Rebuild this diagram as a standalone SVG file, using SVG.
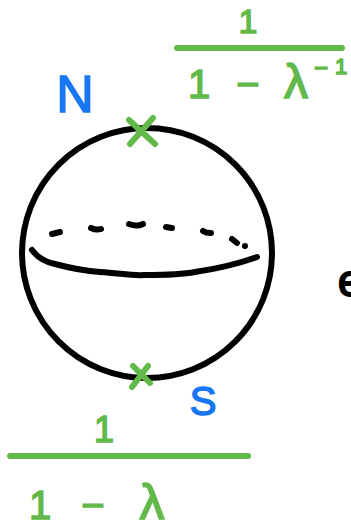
<svg xmlns="http://www.w3.org/2000/svg" width="351" height="529" viewBox="0 0 351 529">
<style>
.g{stroke:#62b94a;stroke-width:6;stroke-linecap:round;fill:none}
.k{stroke:#000;stroke-width:6;stroke-linecap:round;stroke-linejoin:round;fill:none}
.d{stroke:#000;stroke-width:6;stroke-linecap:round;fill:none}
.gt{fill:#62b94a;stroke:#62b94a;stroke-width:1.5;font-family:"Liberation Sans",Arial,sans-serif;text-anchor:middle}
.bt{fill:#1877f2;stroke:#1877f2;stroke-width:1.5;font-family:"Liberation Sans",Arial,sans-serif;text-anchor:middle}
</style>
<rect width="351" height="529" fill="#fff"/>
<g id="sphere">
<circle class="k" cx="147" cy="253" r="125"/>
<path class="k" d="M32,250 C38,258 45,262 55,264 C70,268 85,271 100,272 C120,273 130,276 145,275 C165,275 180,275 195,272 C215,269 235,265 257,257"/>
<path class="d" d="M52,234 L60,232 M91,228 C95,230 98,230 101,229 M129,224 C134,226 139,226 143,224 M166,227 L172,228 M203,231 C206,233 209,233 211,233 M232,239 L237,243 M245,246 L245,246"/>
</g>
<g id="north">
<path class="g" d="M129,120 L155,144 M153,118 L130,144"/>
<text class="bt" x="75" y="112" font-size="52">N</text>
</g>
<g id="south">
<path class="g" d="M133,366 L150,383 M148,366 L132,387"/>
<text class="bt" x="203" y="415" font-size="40">S</text>
</g>
<g id="fraction-top">
<text class="gt" x="248" y="33" font-size="34">1</text>
<line class="g" x1="177" y1="48" x2="342" y2="48"/>
<text class="gt" font-size="40" y="98"><tspan x="199">1</tspan><tspan x="248">−</tspan><tspan x="296" font-size="48">λ</tspan><tspan x="321" y="76" font-size="24">−</tspan><tspan x="341" y="74" font-size="22">1</tspan></text>
</g>
<g id="fraction-bottom">
<text class="gt" x="104" y="442" font-size="36">1</text>
<line class="g" x1="10" y1="456" x2="248" y2="456"/>
<text class="gt" font-size="40" y="519"><tspan x="40">1</tspan><tspan x="93">−</tspan><tspan x="152" font-size="50">λ</tspan></text>
</g>
<g id="partial">
<text x="338" y="296" font-size="44" font-family="Liberation Sans,Arial,sans-serif" fill="#000" stroke="#000" stroke-width="2">e</text>
</g>
</svg>
